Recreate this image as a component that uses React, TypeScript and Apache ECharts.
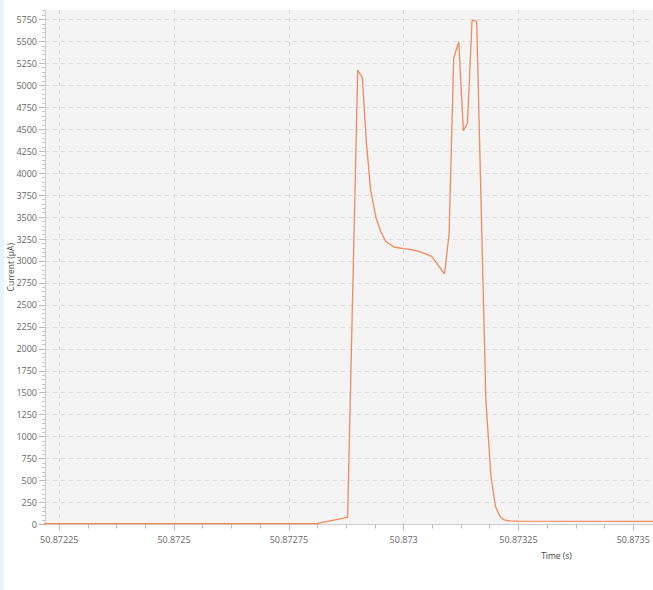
import React, { useEffect, useRef } from 'react';
import * as echarts from 'echarts';

// Sample times (s) and measured current (µA)
const times = [
  50.8722, 50.87281, 50.872878, 50.8729, 50.87291, 50.872919, 50.872928, 50.87294,
  50.87295, 50.872961, 50.872979, 50.872999, 50.873014, 50.873034, 50.873061, 50.873089,
  50.873099, 50.873109, 50.87312, 50.87313, 50.873139, 50.873149, 50.873159, 50.873179,
  50.87319, 50.8732, 50.87321, 50.873219, 50.873231, 50.87325, 50.87355,
];
const currents = [
  10, 10, 80, 5174, 5087, 4341, 3810, 3489,
  3336, 3223, 3159, 3140, 3132, 3109, 3052, 2852,
  3310, 5307, 5495, 4484, 4570, 5742, 5731, 1424,
  552, 205, 91, 52, 41, 38, 35,
];
const xTickLabels = ['50.87225', '50.8725', '50.87275', '50.873', '50.87325', '50.8735'];
const yTickLabels = [
  '0', '250', '500', '750', '1000', '1250', '1500', '1750', '2000', '2250', '2500', '2750',
  '3000', '3250', '3500', '3750', '4000', '4250', '4500', '4750', '5000', '5250', '5500', '5750',
];

const X_MIN = 50.872219;
const X_MAX = 50.873543;
const Y_MIN = 0;
const Y_MAX = 5857;

const FONT = '"Open Sans", "Noto Sans", sans-serif';

export default function App() {
  const ref = useRef<HTMLDivElement>(null);

  useEffect(() => {
    if (!ref.current) return;
    const chart = echarts.init(ref.current, null, { renderer: 'svg' });

    const xMajor = xTickLabels.map(Number);
    const yMajor = yTickLabels.map(Number);
    const xStep = 0.00025 / 4;
    const xMinor: number[] = [];
    for (let i = -1; i <= xMajor.length; i++) {
      for (let k = 1; k < 4; k++) {
        const v = +(xMajor[0] + i * 0.00025 + k * xStep).toFixed(8);
        if (v > X_MIN && v < X_MAX) xMinor.push(v);
      }
    }
    const yMinor: number[] = [];
    for (let v = 50; v < Y_MAX; v += 50) {
      if (v % 250 !== 0) yMinor.push(v);
    }

    const labelStyle = { fontFamily: FONT, fontSize: 9, color: '#666666' };

    chart.setOption({
      animation: false,
      backgroundColor: '#ffffff',
      grid: {
        left: 45,
        top: 10,
        right: 0,
        bottom: 65.5,
        containLabel: false,
        outerBoundsMode: 'none',
        show: true,
        backgroundColor: '#f4f4f4',
        borderWidth: 0,
      },
      xAxis: [
        {
          type: 'value',
          min: X_MIN,
          max: X_MAX,
          position: 'bottom',
          axisLine: { show: true, lineStyle: { color: '#cccccc', width: 1 } },
          axisTick: { show: true, customValues: xMajor, length: 6, lineStyle: { color: '#bbbbbb' } },
          axisLabel: {
            ...labelStyle,
            customValues: xMajor,
            margin: 10,
            formatter: (v: number) => {
              const s = v.toFixed(5).replace(/0+$/, '');
              return s.endsWith('.') ? s.slice(0, -1) : s;
            },
          },
          splitLine: { show: true, lineStyle: { type: [4, 4], color: '#dddddd', width: 1 } },
          minorTick: { show: false },
        },
        {
          type: 'value',
          min: X_MIN,
          max: X_MAX,
          position: 'bottom',
          offset: 0,
          axisLine: { show: false },
          axisTick: { show: true, customValues: xMinor, length: 4, lineStyle: { color: '#bbbbbb' } },
          axisLabel: { show: false },
          splitLine: { show: false },
        },
      ],
      yAxis: [
        {
          type: 'value',
          min: Y_MIN,
          max: Y_MAX,
          position: 'left',
          name: 'Current (µA)',
          nameLocation: 'middle',
          nameGap: 30,
          nameMoveOverlap: false,
          nameTextStyle: { fontFamily: FONT, fontSize: 8.5, color: '#444444' },
          axisLine: { show: true, lineStyle: { color: '#cccccc', width: 1 } },
          axisTick: { show: true, customValues: yMajor, length: 6, lineStyle: { color: '#bbbbbb' } },
          axisLabel: {
            ...labelStyle,
            customValues: yMajor,
            margin: 8,
            formatter: (v: number) => String(Math.round(v)),
          },
          splitLine: { show: true, lineStyle: { type: [4, 4], color: '#dddddd', width: 1 } },
        },
        {
          type: 'value',
          min: Y_MIN,
          max: Y_MAX,
          position: 'left',
          offset: 0,
          axisLine: { show: false },
          axisTick: { show: true, customValues: yMinor, length: 3, lineStyle: { color: '#c4c4c4' } },
          axisLabel: { show: false },
          splitLine: { show: false },
        },
      ],
      graphic: [
        {
          type: 'rect',
          left: 0,
          top: 0,
          shape: { width: 4, height: 590 },
          style: { fill: '#eaf3fa' },
          silent: true,
        },
        {
          type: 'text',
          x: 556.5,
          y: 555,
          style: {
            text: 'Time (s)',
            font: `8.5px ${FONT}`,
            fill: '#444444',
            align: 'center',
            verticalAlign: 'middle',
          },
          silent: true,
        },
      ],
      series: [
        {
          type: 'line',
          xAxisIndex: 0,
          yAxisIndex: 0,
          data: times.map((t, i) => [t, currents[i]]),
          showSymbol: false,
          symbol: 'none',
          clip: true,
          lineStyle: { color: '#f4895c', width: 1.3 },
          itemStyle: { color: '#f4895c' },
        },
      ],
    });

    return () => chart.dispose();
  }, []);

  return (
    <div
      ref={ref}
      style={{ position: 'fixed', left: 0, top: 0, width: 653, height: 590 }}
    />
  );
}
